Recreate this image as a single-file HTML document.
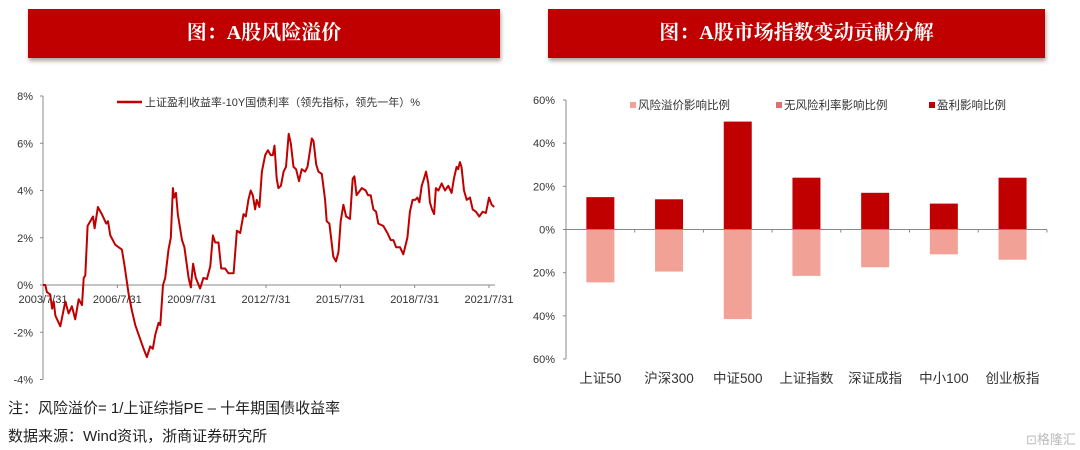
<!DOCTYPE html>
<html><head><meta charset="utf-8">
<style>
html,body{margin:0;padding:0;background:#fff;}
body{width:1080px;height:450px;position:relative;overflow:hidden;font-family:"Liberation Sans","Noto Sans CJK SC",sans-serif;}
.banner{position:absolute;top:9px;height:49px;background:#c00000;color:#fff;font-weight:bold;font-size:20px;line-height:49px;text-align:center;box-shadow:1px 3px 4px rgba(0,0,0,0.35);font-family:"Liberation Serif","Noto Serif CJK SC",serif;}
.note{position:absolute;left:8px;font-size:15px;color:#222;}
</style></head>
<body>
<div class="banner" style="left:28px;width:472px;">图：A股风险溢价</div>
<div class="banner" style="left:548px;width:497px;">图：A股市场指数变动贡献分解</div>
<svg id="left" width="540" height="390" style="position:absolute;left:0;top:0;" font-family="Liberation Sans, Noto Sans CJK SC, sans-serif"></svg>
<svg id="right" width="540" height="390" style="position:absolute;left:530px;top:0;" font-family="Liberation Sans, Noto Sans CJK SC, sans-serif"></svg>
<div class="note" style="top:397px;">注：风险溢价= 1/上证综指PE – 十年期国债收益率</div>
<div class="note" style="top:425px;">数据来源：Wind资讯，浙商证券研究所</div>
<div style="position:absolute;left:1026px;top:429px;font-size:13px;color:#bbb;white-space:nowrap;">⊡格隆汇</div>
<script>
// Left chart data: months since 2003/7/31 and risk premium (%)
const months=[0,1.1,1.9,3.5,4.4,5.2,6,8.4,10.8,12.4,14,15.6,17.3,18.9,19.7,20.5,21.6,22.9,24.2,25,26.6,28.5,30.6,31.5,32.6,35,38.2,39.5,41.5,43.1,44.7,46.3,48.7,50.3,51.9,53.2,54.4,56,56.8,58.1,59.2,60.8,61.9,62.9,63.5,64.4,65.3,67.3,68.5,70.5,71.6,72.7,74,76.1,77.7,79.4,81,82.3,83.4,85,86.3,88.2,89.8,92.3,93.9,95.5,97.1,98.2,99.5,100.6,101.6,102.7,103.5,104.8,106,107.6,108.9,110.3,111.3,112.1,113.2,114,115.2,116.5,117.7,119,120,121.3,122.6,124,125.3,126.9,128.1,130.2,131,132.3,133.4,135,136.6,137.4,138.7,140.6,141.9,143.1,144.2,145.5,146.8,148.7,150,150.8,151.9,154.4,156.3,157.4,158.7,160,161.3,162.4,164.8,166.8,168.4,169.7,171,172.9,174.5,176.5,177.7,179,180.2,181.3,182.3,183.4,184.5,185.5,186.6,187.4,188.4,189.4,190.3,191.5,193.1,194.7,196.3,197.9,199,200.3,201.1,201.9,202.7,203.9,205.2,206.8,208.1,209.7,211.3,212.9,214.5,216,217.3,218.5];
const premium=[0,0,-0.3,-0.4,-1.0,-0.7,-1.3,-1.75,-0.7,-1.2,-0.9,-1.45,-0.6,-0.85,0.3,0.4,2.5,2.7,2.9,2.4,3.3,3.0,2.6,2.7,2.1,1.7,1.5,0.8,-0.4,-1.1,-1.7,-2.1,-2.7,-3.05,-2.6,-2.7,-2.1,-1.6,-1.7,0,0.3,1.5,2.0,4.1,3.7,3.9,3.0,1.9,1.6,0.3,-0.1,0.9,0.3,-0.15,0.3,0.25,0.8,2.1,1.8,1.8,0.7,0.7,0.5,0.5,2.3,2.2,3.0,2.9,3.6,4.0,3.8,3.2,3.6,3.3,4.8,5.5,5.7,5.5,5.5,5.9,4.5,4.1,4.2,4.8,5.0,6.4,6.0,5.0,4.9,4.4,4.9,4.8,5.0,6.2,6.1,5.1,4.8,4.7,3.6,2.7,2.6,1.2,1.0,1.4,2.7,3.4,2.9,2.8,4.5,4.6,3.8,4.1,4.0,3.8,3.8,3.2,3.1,2.6,2.5,2.2,1.9,1.9,1.6,1.6,1.3,2.0,3.1,3.6,3.6,3.7,3.5,4.2,4.5,4.8,4.3,3.5,3.2,3.0,4.1,4.0,4.3,4.0,4.2,3.9,4.5,5.0,4.9,5.2,5.0,4.0,3.6,3.7,3.2,3.1,2.9,3.1,3.05,3.7,3.4,3.3];
const leftYTicks=[8,6,4,2,0,-2,-4];
const leftXTicks=["2003/7/31","2006/7/31","2009/7/31","2012/7/31","2015/7/31","2018/7/31","2021/7/31"];
const leftXTickMonths=[0,36,72,108,144,180,216];
// Right chart data
const categories=["上证50","沪深300","中证500","上证指数","深证成指","中小100","创业板指"];
const riskPremiumShare=[-24.5,-19.5,-41.5,-21.5,-17.5,-11.5,-14];
const riskFreeShare=[0,0,0,0,0,0,0];
const earningsShare=[15,14,50,24,17,12,24];
const rightYTicks=[60,40,20,0,-20,-40,-60];

const NS="http://www.w3.org/2000/svg";
function mk(svg,tag,attrs,text){const e=document.createElementNS(NS,tag);for(const k in attrs)e.setAttribute(k,attrs[k]);if(text!==undefined)e.textContent=text;svg.appendChild(e);return e;}

// ---- Left chart ----
const L=document.getElementById('left');
const lx=m=>43+m*(446/216);
const ly=v=>285-v*23.625;
let e=mk(L,'line',{x1:43,y1:ly(8),x2:43,y2:ly(-4),stroke:'#888','stroke-width':1});

e=mk(L,'line',{x1:43,y1:ly(0),x2:495,y2:ly(0),stroke:'#888','stroke-width':1});

leftYTicks.forEach(v=>{
  mk(L,'line',{x1:40,y1:ly(v),x2:43,y2:ly(v),stroke:'#888'});
  const t=mk(L,'text',{x:33,y:ly(v)+4,'text-anchor':'end','font-size':11,fill:'#333'},v+'%');
  
});
leftXTicks.forEach((s,i)=>{
  const x=lx(leftXTickMonths[i]);
  mk(L,'line',{x1:x,y1:ly(0),x2:x,y2:ly(0)+3,stroke:'#888'});
  const t=mk(L,'text',{x:x,y:303,'text-anchor':'middle','font-size':11,fill:'#333'},s);
  
});
const pts=months.map((m,i)=>lx(m).toFixed(1)+','+ly(premium[i]).toFixed(1)).join(' ');
e=mk(L,'polyline',{points:pts,fill:'none',stroke:'#c00000','stroke-width':2,'stroke-linejoin':'round'});

e=mk(L,'line',{x1:117,y1:102,x2:142,y2:102,stroke:'#c00000','stroke-width':2.5});

e=mk(L,'text',{x:145,y:106,'font-size':11,fill:'#333'},'上证盈利收益率-10Y国债利率（领先指标，领先一年）%');


// ---- Right chart ----
const R=document.getElementById('right');
const ox=36, cw=68.7, bw=28;
const ry=v=>100+(60-v)*(259/120);
rightYTicks.forEach(v=>{
  mk(R,'line',{x1:ox-3,y1:ry(v),x2:ox,y2:ry(v),stroke:'#888'});
  const t=mk(R,'text',{x:ox-11,y:ry(v)+4,'text-anchor':'end','font-size':11,fill:'#333'},Math.abs(v)+'%');
  
});
categories.forEach((c,i)=>{
  const cx=ox+cw*(i+0.5);
  const bx=cx-bw/2;
  let r=mk(R,'rect',{x:bx,y:ry(earningsShare[i]),width:bw,height:ry(0)-ry(earningsShare[i]),fill:'#c00000'});
  
  r=mk(R,'rect',{x:bx,y:ry(0),width:bw,height:ry(riskPremiumShare[i])-ry(0),fill:'#f2a196'});
  
  if(riskFreeShare[i]!==0){
    const v=riskFreeShare[i];
    r=mk(R,'rect',{x:bx,y:Math.min(ry(v),ry(0)),width:bw,height:Math.abs(ry(v)-ry(0)),fill:'#e07070'});
    
  }
  mk(R,'line',{x1:ox+cw*(i+1),y1:ry(0),x2:ox+cw*(i+1),y2:ry(0)+3,stroke:'#888'});
  const t=mk(R,'text',{x:cx,y:383,'text-anchor':'middle','font-size':13.5,fill:'#333'},c);
  
});
e=mk(R,'line',{x1:ox,y1:ry(60),x2:ox,y2:ry(-60),stroke:'#888'});

e=mk(R,'line',{x1:ox,y1:ry(0),x2:ox+cw*7,y2:ry(0),stroke:'#888'});

const legs=[[100,'#f2a196','风险溢价影响比例'],[246,'#e07070','无风险利率影响比例'],[399,'#c00000','盈利影响比例']];
legs.forEach(l=>{
  let s=mk(R,'rect',{x:l[0],y:102,width:6,height:6,fill:l[1]});
  
  s=mk(R,'text',{x:l[0]+8,y:109,'font-size':11.5,fill:'#333'},l[2]);
  
});
</script>
</body></html>
